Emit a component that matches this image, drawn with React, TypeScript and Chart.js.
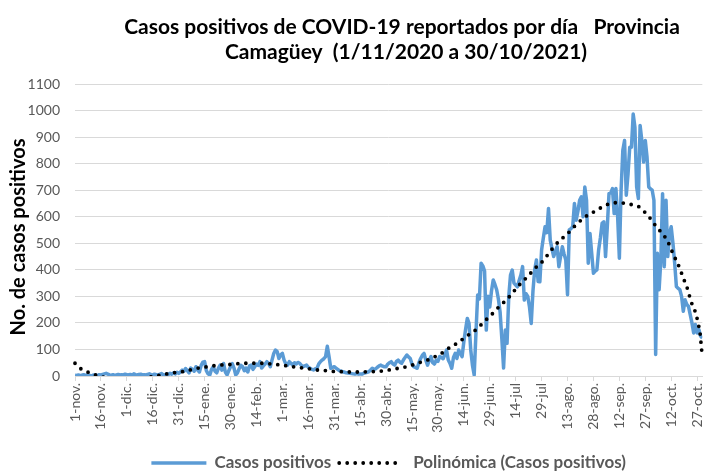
import React, { useEffect, useRef } from "react";
import { Chart, registerables } from "chart.js";

Chart.register(...registerables);

const FONT = "Lato, 'Liberation Sans', sans-serif";

const titleLines = [
  "Casos positivos de COVID-19 reportados por día   Provincia",
  "Camagüey  (1/11/2020 a 30/10/2021)",
];
const yAxisTitle = "No. de casos positivos";
const seriesLabel = "Casos positivos";
const trendLabel = "Polinómica (Casos positivos)";

const yMin = 0;
const yMax = 1100;
const yStep = 100;

const tickDays = [0, 15, 30, 45, 60, 75, 90, 105, 120, 135, 150, 165, 180, 195, 210, 225, 240, 255, 270, 285, 300, 315, 330, 345, 360];
const tickLabels = [
  "1-nov.", "16-nov.", "1-dic.", "16-dic.", "31-dic.", "15-ene.", "30-ene.", "14-feb.",
  "1-mar.", "16-mar.", "31-mar.", "15-abr.", "30-abr.", "15-may.", "30-may.", "14-jun.",
  "29-jun.", "14-jul", "29-jul", "13-ago.", "28-ago.", "12-sep.", "27-sep.", "12-oct.", "27-oct.",
];

// Daily positive cases, 1-nov-2020 .. 30-oct-2021 (364 days)
const casosPositivos = [
  // Nov 1 - Dec 30
  3, 2, 4, 1, 3, 5, 2, 4, 3, 1, 2, 4, 3, 2, 5,
  3, 6, 8, 10, 7, 4, 3, 5, 2, 4, 6, 3, 5, 4, 7,
  5, 3, 6, 4, 8, 5, 3, 6, 7, 4, 5, 3, 6, 8, 5,
  4, 7, 5, 3, 6, 9, 5, 4, 8, 6, 10, 7, 12, 8, 14,
  // Dec 31 - Feb 28
  10, 15, 22, 18, 28, 20, 12, 30, 25, 18, 35, 22, 15, 40, 52,
  54, 20, 8, 4, 25, 35, 18, 12, 30, 41, 22, 47, 15, 4, 20,
  35, 47, 30, 4, 12, 28, 40, 35, 20, 30, 15, 38, 41, 25, 35,
  45, 40, 54, 30, 38, 45, 54, 48, 35, 60, 85, 98, 92, 66, 80,
  // Mar 1 - Mar 30
  85, 60, 45, 41, 54, 48, 41, 50, 45, 51, 48, 40, 35, 38, 41,
  33, 29, 25, 23, 27, 29, 45, 54, 60, 65, 73, 112, 73, 29, 32,
  // Mar 31 - Apr 29
  35, 30, 25, 20, 18, 16, 14, 12, 11, 10, 9, 8, 7, 9, 7,
  8, 7, 10, 12, 14, 16, 22, 29, 25, 27, 33, 38, 41, 37, 35,
  // Apr 30 - May 31
  35, 45, 50, 54, 45, 41, 55, 60, 52, 48, 60, 70, 79, 72, 66, 45,
  35, 32, 29, 50, 66, 78, 85, 60, 41, 60, 73, 50, 45, 60, 55, 73,
  // Jun 1 - Jul 7
  70, 65, 80, 98, 60, 47, 29, 70, 85, 66, 98, 85, 73, 129, 175, 217, 198, 98, 40,
  4, 160, 305, 290, 425, 415, 395, 173, 300, 260, 320, 362, 345, 325, 290, 240, 140, 30,
  // Jul 8 - Jul 30
  173, 123, 300, 380, 399, 350, 343, 336, 360, 380, 412, 286,
  310, 300, 260, 198, 320, 400, 437, 356, 355, 475, 520,
  // Jul 31 - Oct 30
  562, 540, 631, 512, 480, 450, 470, 487, 412, 450, 487, 460, 437, 306, 550,
  555, 562, 650, 587, 620, 662, 675, 600, 712, 662, 425, 537, 462, 387, 395,
  400, 475, 520, 575, 581, 450, 560, 687, 690, 706, 612, 706, 600, 444, 700,
  850, 887, 681, 760, 862, 862, 987, 937, 712, 669, 944, 887, 806, 887, 825,
  712, 705, 700, 662, 81, 462, 325, 437, 687, 412, 662, 450, 537, 562, 500,
  425, 337, 330, 325, 300, 244, 287, 270, 262, 231, 200, 162, 194, 162, 175,
  150, 143,
];

// Polynomial trendline (day index, value)
const trendDays = [
  0, 3, 7, 11, 15, 25, 35, 45, 55, 60, 64, 68, 73, 77, 82, 86, 91, 95, 100, 105, 109,
  114, 118, 123, 128, 132, 137, 141, 146, 150, 155, 160, 164, 169, 174, 179, 183, 187,
  192, 196, 200, 204, 208, 212, 215, 219, 223, 226, 230, 233.5, 237, 240, 243, 246.5,
  250, 253, 256, 259, 262.6, 265.6, 269.3, 272, 275, 278, 281, 285, 288, 291, 295,
  298.5, 302, 306, 310, 314, 319, 323, 327, 330, 333, 336, 339, 342, 344, 346, 348,
  350, 351.6, 353.4, 355, 356.2, 358, 359.7, 360.6, 361.6, 362.5, 363,
];
const trendValues = [
  48, 29, 16, 6, -2, -12, -10, -2, 10, 15, 18, 25, 32, 35, 40, 42, 44, 47, 48, 48, 48,
  45, 42, 38, 33, 30, 26, 22, 20, 17, 16, 15, 15, 16, 17, 20, 24, 29,
  35, 43, 52, 60, 72, 85, 100, 115, 132, 148, 164, 183, 207, 224, 245, 268,
  289, 312, 335, 356, 379, 403, 423, 444, 469, 494, 513, 536, 557, 576, 599,
  612, 625, 640, 650, 653, 650, 644, 635, 615, 593, 566, 543, 518, 493, 461, 434,
  405, 376, 346, 317, 285, 258, 225, 197, 166, 106, 72,
];

const titlePlugin = {
  id: "customTitle",
  afterDraw(chart: any) {
    const ctx = chart.ctx;
    ctx.save();
    ctx.fillStyle = "#000000";
    ctx.textAlign = "center";
    ctx.textBaseline = "alphabetic";
    ctx.font = `bold 21px ${FONT}`;
    ctx.fillText(titleLines[0], 402, 34);
    ctx.fillText(titleLines[1], 406, 59);
    // y axis title
    ctx.translate(19, 237);
    ctx.rotate(-Math.PI / 2);
    ctx.textBaseline = "middle";
    ctx.font = `bold 20px ${FONT}`;
    ctx.fillText(yAxisTitle, 0, 0);
    ctx.restore();
  },
};

const legendPlugin = {
  id: "customLegend",
  afterDraw(chart: any) {
    const ctx = chart.ctx;
    const area = chart.chartArea;
    const ds = chart.data.datasets;
    ctx.save();
    ctx.font = `bold 17px ${FONT}`;
    const samples = [55, 60];
    const gaps = [8, 14];
    const itemGap = 8;
    const widths = ds.map((d: any) => ctx.measureText(d.label).width);
    let total = 0;
    ds.forEach((_: any, i: number) => {
      total += samples[i] + gaps[i] + widths[i];
    });
    total += itemGap * (ds.length - 1);
    let x = (area.left + area.right) / 2 - total / 2;
    const y = 463;
    ds.forEach((d: any, i: number) => {
      ctx.beginPath();
      ctx.strokeStyle = d.borderColor;
      ctx.lineWidth = d.borderWidth;
      ctx.lineCap = d.borderCapStyle || "butt";
      ctx.setLineDash(d.borderDash || []);
      ctx.moveTo(x, y);
      ctx.lineTo(x + samples[i], y);
      ctx.stroke();
      ctx.setLineDash([]);
      x += samples[i] + gaps[i];
      ctx.fillStyle = "#595959";
      ctx.textAlign = "left";
      ctx.textBaseline = "middle";
      ctx.fillText(d.label, x, y);
      x += widths[i] + itemGap;
    });
    ctx.restore();
  },
};

export default function App() {
  const ref = useRef<HTMLCanvasElement>(null);
  useEffect(() => {
    const canvas = ref.current;
    if (!canvas) return;
    const chart = new Chart(canvas, {
      type: "line",
      data: {
        datasets: [
          {
            label: seriesLabel,
            data: casosPositivos.map((v, i) => ({ x: i, y: v })),
            borderColor: "#5B9BD5",
            backgroundColor: "#5B9BD5",
            borderWidth: 3.5,
            borderJoinStyle: "round",
            pointRadius: 0,
            tension: 0,
            order: 2,
          },
          {
            label: trendLabel,
            data: trendDays.map((d, i) => ({ x: d, y: trendValues[i] })),
            borderColor: "#000000",
            backgroundColor: "#000000",
            borderWidth: 3.8,
            borderDash: [0, 8],
            borderCapStyle: "round",
            pointRadius: 0,
            cubicInterpolationMode: "monotone",
            order: 1,
            clip: { left: 4, top: 4, right: 8, bottom: 0 },
          },
        ] as any,
      },
      options: {
        responsive: false,
        animation: false,
        layout: { padding: { top: 84, left: 0, right: 8, bottom: 35 } },
        plugins: {
          legend: { display: false },
          title: { display: false },
          tooltip: { enabled: false },
        },
        scales: {
          x: {
            type: "linear",
            min: 0,
            max: 363,
            afterBuildTicks: (s: any) => {
              s.ticks = tickDays.map((v) => ({ value: v }));
            },
            afterFit: (s: any) => {
              s.height = 60;
            },
            ticks: {
              autoSkip: false,
              minRotation: 90,
              maxRotation: 90,
              padding: 2,
              color: "#595959",
              font: { family: FONT, size: 14 },
              callback: (v: any) => {
                const k = tickDays.indexOf(Number(v));
                return k >= 0 ? tickLabels[k] : "";
              },
            },
            grid: {
              display: true,
              drawOnChartArea: false,
              drawTicks: true,
              tickLength: 5,
              color: "#d9d9d9",
              lineWidth: 1,
            },
            border: { display: true, color: "#d9d9d9", width: 1 },
          },
          y: {
            min: yMin,
            max: yMax,
            afterFit: (s: any) => {
              s.width = 75;
            },
            ticks: {
              stepSize: yStep,
              padding: 15,
              color: "#595959",
              font: { family: FONT, size: 14 },
              callback: (v: any) => String(v),
            },
            grid: { color: "#d9d9d9", lineWidth: 1, drawTicks: false },
            border: { display: false },
          },
        },
      } as any,
      plugins: [titlePlugin, legendPlugin],
    });
    return () => chart.destroy();
  }, []);
  return (
    <div style={{ position: "fixed", left: 0, top: 0, width: 716, height: 471, background: "#ffffff" }}>
      <canvas ref={ref} width={716} height={471} style={{ display: "block", width: 716, height: 471 }} />
    </div>
  );
}
